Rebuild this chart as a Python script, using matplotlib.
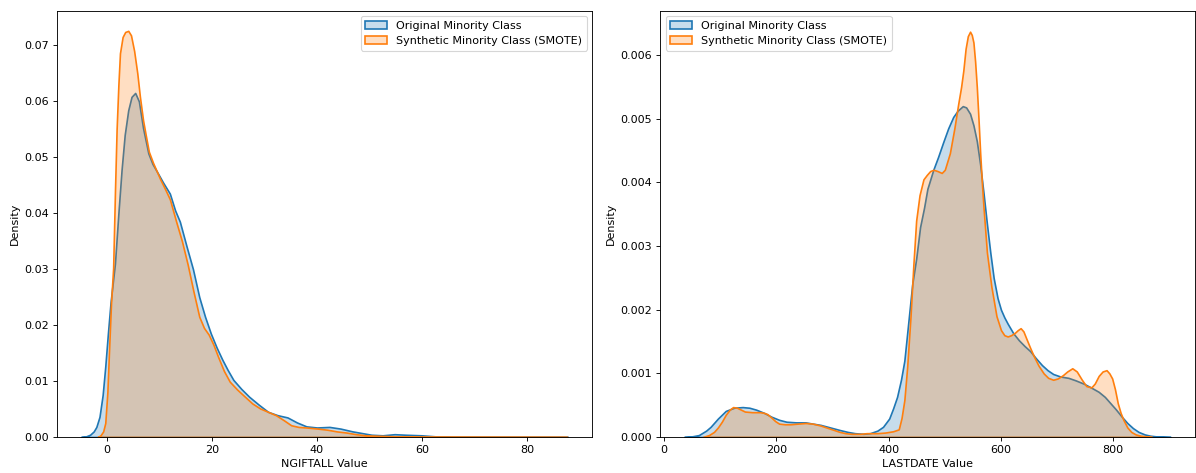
import matplotlib
matplotlib.use("Agg")
import matplotlib.pyplot as plt
from matplotlib.colors import to_rgba
from matplotlib.patches import Patch

# Density estimates sampled along each variable
ngiftall_orig_x = [-4.9, -4.0, -3.2, -2.5, -2.0, -1.4, -0.8, -0.3, 0.2, 0.7, 1.54, 2.2, 2.8, 3.4,
                   4.07, 4.7, 5.4, 6.1, 6.9, 7.9, 8.7, 9.5, 10.7, 12.0, 13.0, 13.9, 15.2, 16.4,
                   17.6, 18.7, 19.8, 20.9, 22.0, 23.0, 24.1, 25.6, 27.1, 28.9, 30.7, 32.5, 34.4,
                   36.2, 38.0, 40.0, 42.4, 44.5, 46.8, 48.6, 50.4, 52.5, 54.8, 57.0, 59.9, 62.8,
                   66.0, 75.0, 87.8]
ngiftall_orig_y = [0.0, 0.0001, 0.0004, 0.0010, 0.0018, 0.0036, 0.0075, 0.0126, 0.0185, 0.0240,
                   0.0310, 0.0400, 0.0477, 0.0540, 0.0584, 0.0608, 0.0615, 0.0600, 0.0552, 0.0507,
                   0.0488, 0.0475, 0.0455, 0.0435, 0.0405, 0.0385, 0.0340, 0.0300, 0.0250, 0.0215,
                   0.0185, 0.0160, 0.0138, 0.0120, 0.0102, 0.0086, 0.0072, 0.0058, 0.0045, 0.0039,
                   0.0035, 0.0026, 0.0019, 0.0017, 0.0018, 0.0015, 0.0010, 0.0007, 0.0004, 0.0003,
                   0.0005, 0.0004, 0.0003, 0.0001, 0.00003, 0.00001, 0.0]

ngiftall_smote_x = [-1.75, -1.2, -0.7, -0.3, 0.1, 0.44, 0.8, 1.2, 1.55, 1.86, 2.2, 2.5, 3.0, 3.5,
                    4.08, 4.6, 5.2, 5.8, 6.3, 6.9, 7.4, 8.0, 8.8, 9.5, 10.2, 11.0, 12.0, 13.2,
                    14.3, 15.4, 16.5, 17.6, 18.5, 19.4, 20.3, 21.2, 22.3, 23.4, 24.8, 26.3, 27.7,
                    29.2, 30.7, 32.2, 33.7, 35.1, 36.5, 38.0, 40.2, 42.0, 43.8, 45.6, 47.5, 49.3,
                    51.1, 55.5, 60.0, 70.0, 87.7]
ngiftall_smote_y = [0.0, 0.0003, 0.0010, 0.0025, 0.0080, 0.0160, 0.0240, 0.0302, 0.0440, 0.0550,
                    0.0630, 0.0686, 0.0715, 0.0724, 0.0726, 0.0718, 0.0690, 0.0650, 0.0608, 0.0566,
                    0.0540, 0.0510, 0.0490, 0.0475, 0.0460, 0.0445, 0.0425, 0.0385, 0.0350, 0.0308,
                    0.0260, 0.0215, 0.0195, 0.0183, 0.0165, 0.0143, 0.0118, 0.0099, 0.0085, 0.0072,
                    0.0060, 0.0051, 0.0045, 0.0039, 0.0030, 0.0021, 0.0018, 0.0017, 0.0015, 0.0013,
                    0.0010, 0.0008, 0.0005, 0.0003, 0.00024, 0.0001, 0.00004, 0.00002, 0.0]

lastdate_orig_x = [36, 50, 62, 75, 83, 96, 110, 125, 140, 152, 164, 178, 191, 205, 218, 235, 252,
                   265, 279, 296, 313, 327, 340, 355, 367, 380, 390, 401, 408, 415, 422, 428, 435,
                   442, 449, 456, 463, 469, 479.5, 488, 497, 506, 515, 523, 532, 538, 545, 551, 557,
                   563, 569, 575, 581, 587, 594, 600, 606, 612, 622, 632, 642, 652, 662, 673, 683,
                   693, 706, 720, 733, 747, 760, 774, 785, 795, 805, 815, 825, 835, 845, 856, 866,
                   876, 902]
lastdate_orig_y = [0.0, 0.00001, 0.00003, 0.0001, 0.00016, 0.00029, 0.00041, 0.00046, 0.00047,
                   0.00046, 0.00043, 0.00038, 0.00032, 0.00027, 0.00024, 0.00023, 0.00023, 0.00021,
                   0.00019, 0.00015, 0.00011, 0.00008, 0.00006, 0.00005, 0.00006, 0.0001, 0.00016,
                   0.00029, 0.00045, 0.00063, 0.0009, 0.0012, 0.0018, 0.0024, 0.0028, 0.0033,
                   0.0036, 0.0039, 0.0042, 0.0044, 0.00463, 0.00485, 0.00503, 0.00513, 0.0052,
                   0.00518, 0.00508, 0.0049, 0.00465, 0.00428, 0.00383, 0.00335, 0.0029, 0.0025,
                   0.00218, 0.002, 0.00188, 0.00178, 0.00163, 0.00152, 0.00143, 0.00135, 0.00124,
                   0.00113, 0.00105, 0.00099, 0.00095, 0.00093, 0.00089, 0.00084, 0.00078, 0.00071,
                   0.00063, 0.00053, 0.00043, 0.00032, 0.00022, 0.00014, 0.00008, 0.00004, 0.00002,
                   0.00001, 0.0]

lastdate_smote_x = [69, 80, 89, 96, 103, 110, 117, 123, 130, 137, 144, 157, 171, 178, 184, 192,
                    198, 205, 215, 225, 238, 252, 265, 279, 296, 313, 323, 334, 350, 361, 380, 394,
                    408, 418, 423, 428, 433, 439, 444, 449, 455, 462, 468, 474, 480, 487, 494.5,
                    500, 509, 517, 524, 529, 533, 537, 541, 545, 548, 551, 554, 557, 560, 563, 566,
                    569, 575, 583, 592, 600, 606, 612, 618, 625, 630, 635, 640, 645, 652, 659, 667,
                    676, 684, 693, 701, 710, 718, 727, 735, 744, 752, 761, 767, 774, 781, 788, 793,
                    798, 803, 808, 813, 818, 825, 832, 840, 849, 869]
lastdate_smote_y = [0.0, 0.00003, 0.00008, 0.00015, 0.00024, 0.00035, 0.00043, 0.00047, 0.00046,
                    0.00043, 0.0004, 0.00039, 0.00039, 0.00038, 0.00036, 0.0003, 0.00025, 0.00021,
                    0.0002, 0.0002, 0.00021, 0.00022, 0.00021, 0.00018, 0.00013, 0.00008, 0.00006,
                    0.00005, 0.00005, 0.00006, 0.00006, 0.00007, 0.00009, 0.00012, 0.0003, 0.00058,
                    0.0011, 0.0019, 0.0027, 0.0034, 0.0038, 0.00405, 0.00412, 0.00418, 0.0042,
                    0.00418, 0.00415, 0.0042, 0.00446, 0.00485, 0.00524, 0.0055, 0.00576, 0.0061,
                    0.0063, 0.00637, 0.00632, 0.0062, 0.0059, 0.0055, 0.005, 0.00446, 0.004, 0.0036,
                    0.0029, 0.00236, 0.0019, 0.00168, 0.0016, 0.00158, 0.0016, 0.00164, 0.00168,
                    0.00171, 0.00166, 0.00155, 0.0014, 0.00126, 0.00112, 0.001, 0.00093, 0.0009,
                    0.00092, 0.00097, 0.00103, 0.00108, 0.00103, 0.0009, 0.0008, 0.00078, 0.00084,
                    0.00096, 0.00103, 0.00105, 0.001, 0.00092, 0.00075, 0.00053, 0.00038, 0.00027,
                    0.00015, 0.00008, 0.00004, 0.00002, 0.0]

series_labels = ["Original Minority Class", "Synthetic Minority Class (SMOTE)"]
series_colors = ["#1f77b4", "#ff7f0e"]

panels = [
    ("NGIFTALL Value", [(ngiftall_orig_x, ngiftall_orig_y), (ngiftall_smote_x, ngiftall_smote_y)],
     (-9.55, 92.45), (0, 0.0762), "upper right"),
    ("LASTDATE Value", [(lastdate_orig_x, lastdate_orig_y), (lastdate_smote_x, lastdate_smote_y)],
     (-7.1, 945.5), (0, 0.0067), "upper left"),
]

W, H = 1196, 473
fig = plt.figure(figsize=(W / 80, H / 80), dpi=80)
axes = [fig.add_axes([56.7 / W, 36 / H, 535.6 / W, 426.3 / H]),
        fig.add_axes([660 / W, 36 / H, 535 / W, 426.3 / H])]

for ax, (xlabel, curves, xlim, ylim, loc) in zip(axes, panels):
    handles = []
    for (xs, ys), label, color in zip(curves, series_labels, series_colors):
        ax.fill_between(xs, ys, facecolor=to_rgba(color, 0.25),
                        edgecolor=color, linewidth=1.5)
        handles.append(Patch(facecolor=to_rgba(color, 0.25), edgecolor=color,
                             linewidth=1.5, label=label))
    ax.set_xlim(*xlim)
    ax.set_ylim(*ylim)
    ax.set_xlabel(xlabel)
    ax.set_ylabel("Density")
    ax.legend(handles=handles, loc=loc)

fig.savefig("out.png", dpi=80)
